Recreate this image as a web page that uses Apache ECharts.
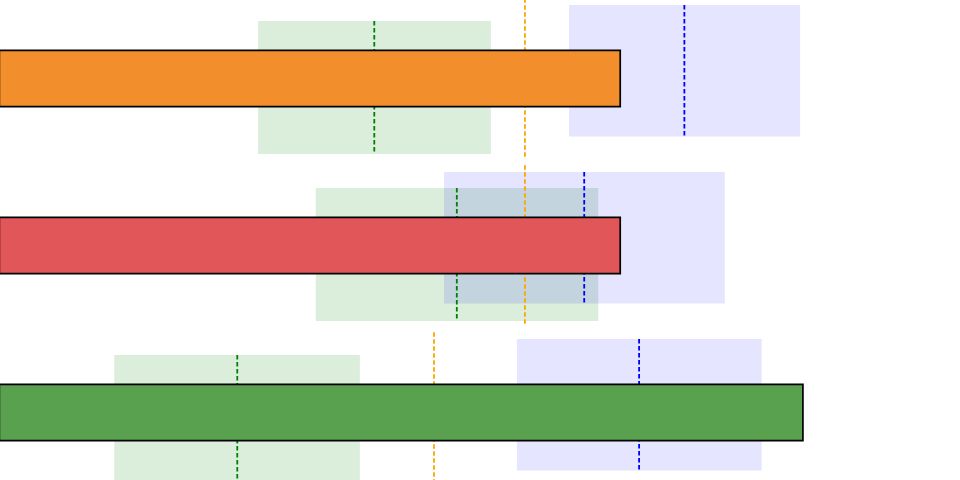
<!DOCTYPE html>
<html>
<head>
<meta charset="utf-8">
<script src="https://cdn.jsdelivr.net/npm/echarts@6/dist/echarts.min.js"></script>
<style>html,body{margin:0;padding:0;background:#fff;}#c{width:960px;height:480px;}</style>
</head>
<body>
<div id="c"></div>
<script>
// ---- data (x in chart units) ----
const categories = ['Group 1', 'Group 2', 'Group 3'];
const barValues = [77.7, 77.7, 100.5];
const barColors = ['#f28e2b', '#e15759', '#59a14f'];

const greenLow = [32.4, 39.6, 14.45];
const greenHigh = [61.45, 74.85, 45.1];
const greenMid = [46.9, 57.2, 29.8];

const blueLow = [71.2, 55.6, 64.7];
const blueHigh = [100.05, 90.65, 95.25];
const blueMid = [85.6, 73.1, 79.95];

const orangeRef = [65.7, 65.7, 54.35];

// ---- build series ----
const chart = echarts.init(document.getElementById('c'), null, {renderer: 'canvas'});

function rectSeries(name, lo, hi, fill, topFrac, botFrac, z) {
  return {
    type: 'custom', name: name, z: z, silent: true, clip: false,
    data: categories.map((c, i) => [lo[i], hi[i], i]),
    encode: {x: [0, 1], y: 2},
    renderItem: function (params, api) {
      const p0 = api.coord([api.value(0), api.value(2)]);
      const p1 = api.coord([api.value(1), api.value(2)]);
      const band = api.size([0, 1])[1];
      const y0 = p0[1] + topFrac * band, y1 = p0[1] + botFrac * band;
      return {type: 'rect', shape: {x: p0[0], y: y0, width: p1[0] - p0[0], height: y1 - y0},
              style: {fill: fill}};
    }
  };
}

function lineSeries(name, vals, color, topFrac, botFrac, z) {
  return {
    type: 'custom', name: name, z: z, silent: true, clip: false,
    data: categories.map((c, i) => [vals[i], i]),
    encode: {x: 0, y: 1},
    renderItem: function (params, api) {
      const p = api.coord([api.value(0), api.value(1)]);
      const band = api.size([0, 1])[1];
      return {type: 'line',
              shape: {x1: p[0], y1: p[1] + topFrac * band, x2: p[0], y2: p[1] + botFrac * band},
              style: {stroke: color, lineWidth: 1.8, lineDash: [4.5, 2.5]}};
    }
  };
}

const option = {
  animation: false,
  backgroundColor: '#ffffff',
  grid: {left: -1.5, right: 0, top: -5, height: 501, containLabel: false, outerBoundsMode: 'none'},
  xAxis: {type: 'value', min: 0, max: 120, show: false},
  yAxis: {type: 'category', data: categories, inverse: true, show: false, boundaryGap: true},
  series: [
    rectSeries('green band', greenLow, greenHigh, 'rgba(0,128,0,0.14)', -0.344, 0.452, 1),
    rectSeries('blue band', blueLow, blueHigh, 'rgba(0,0,255,0.10)', -0.44, 0.347, 2),
    lineSeries('green mid', greenMid, 'green', -0.344, 0.452, 3),
    lineSeries('blue mid', blueMid, 'blue', -0.44, 0.347, 3),
    lineSeries('reference', orangeRef, 'orange', -0.48, 0.48, 3),
    {
      type: 'bar', name: 'value', z: 5, barWidth: 58,
      data: barValues.map((v, i) => ({value: v, itemStyle: {color: barColors[i]}})),
      itemStyle: {borderColor: '#000', borderWidth: 1.7}
    }
  ]
};
chart.setOption(option);
</script>
</body>
</html>
